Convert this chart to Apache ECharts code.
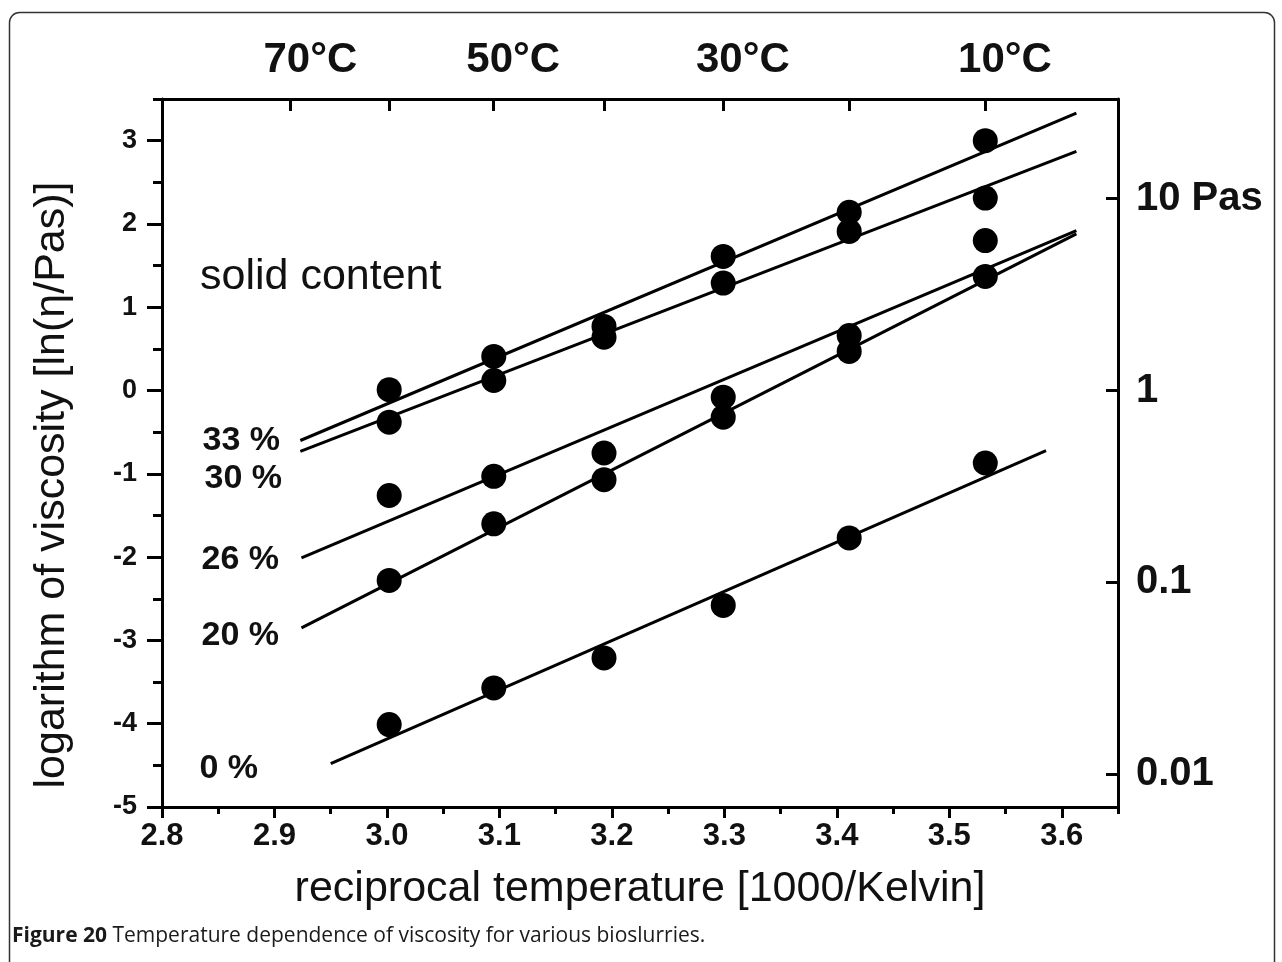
<!DOCTYPE html>
<html>
<head>
<meta charset="utf-8">
<script src="https://cdn.jsdelivr.net/npm/echarts@6/dist/echarts.min.js"></script>
<style>
  html, body { margin: 0; padding: 0; background: #fff; }
  #chart { width: 1282px; height: 962px; }
</style>
</head>
<body>
<div id="chart"></div>
<script>
// reciprocal temperature of the measurements (60 .. 10 °C)
const recipTemp = [3.002, 3.095, 3.193, 3.299, 3.411, 3.532]

// ln(viscosity / Pas) per solid content
const groups = ['33 %', '30 %', '26 %', '20 %', '0 %']
const lnVisc33 = [0.01, 0.41, 0.77, 1.61, 2.14, 3.00]
const lnVisc30 = [-0.38, 0.12, 0.64, 1.29, 1.91, 2.31]
const lnVisc26 = [-1.26, -1.03, -0.75, -0.08, 0.66, 1.80]
const lnVisc20 = [-2.28, -1.60, -1.07, -0.32, 0.47, 1.37]
const lnVisc0 = [-4.01, -3.57, -3.21, -2.58, -1.77, -0.87]

// fitted lines: [x start, y start, x end, y end]
const fit33 = [2.923, -0.60, 3.613, 3.33]
const fit30 = [2.923, -0.73, 3.613, 2.87]
const fit26 = [2.924, -2.01, 3.613, 1.92]
const fit20 = [2.924, -2.85, 3.613, 1.88]
const fit0 = [2.950, -4.48, 3.586, -0.72]

// top axis (°C) and right axis (Pas)
const tempTicks = [70, 60, 50, 40, 30, 20, 10]
const tempLabels = [70, 50, 30, 10]
const pasTicks = [0.01, 0.1, 1, 10]
const pasLabels = ['0.01', '0.1', '1', '10 Pas']
const lnTicks = [-5, -4, -3, -2, -1, 0, 1, 2, 3]

const allVisc = [lnVisc33, lnVisc30, lnVisc26, lnVisc20, lnVisc0]
const allFits = [fit33, fit30, fit26, fit20, fit0]

const toRecip = t => 1000 / (t + 273.15)
const FONT = 'Liberation Sans'
const X_MIN = 2.8, X_MAX = 3.65, Y_MIN = -5, Y_MAX = 3.5

const chart = echarts.init(document.getElementById('chart'))

const series = []
allFits.forEach((f, i) => {
  series.push({
    name: groups[i] + ' fit',
    type: 'line',
    data: [[f[0], f[1]], [f[2], f[3]]],
    showSymbol: false,
    silent: true,
    lineStyle: { color: '#000', width: 3 },
    z: 3
  })
})
allVisc.forEach((vals, i) => {
  series.push({
    name: groups[i],
    type: 'scatter',
    data: vals.map((v, j) => [recipTemp[j], v]),
    symbol: 'circle',
    symbolSize: 25,
    itemStyle: { color: '#000', opacity: 1 },
    z: 4
  })
})

const baseLine = { onZero: false, lineStyle: { color: '#000', width: 3 } }
const tickStyle = { width: 3, color: '#000' }

chart.setOption({
  animation: false,
  backgroundColor: '#fff',
  grid: { left: 162, right: 164, top: 99, bottom: 155, containLabel: false, outerBoundsMode: 'none' },
  xAxis: [
    {
      type: 'value', position: 'bottom', min: X_MIN, max: X_MAX, interval: 0.1,
      axisLine: baseLine,
      axisTick: { length: 11, lineStyle: tickStyle },
      splitLine: { show: false },
      axisLabel: {
        showMaxLabel: false, margin: 14, color: '#111',
        fontFamily: FONT, fontWeight: 'bold', fontSize: 31,
        formatter: v => v.toFixed(1)
      },
      name: 'reciprocal temperature [1000/Kelvin]',
      nameLocation: 'middle', nameGap: 61,
      nameTextStyle: { fontFamily: FONT, fontSize: 43, color: '#111' }
    },
    {
      // minor ticks
      type: 'value', position: 'bottom', min: X_MIN, max: X_MAX, interval: 0.05,
      axisLine: { show: false, onZero: false },
      axisTick: { length: 7, lineStyle: tickStyle },
      axisLabel: { show: false }, splitLine: { show: false }
    },
    {
      type: 'value', position: 'top', min: X_MIN, max: X_MAX,
      axisLine: baseLine,
      axisTick: { inside: true, length: 12, customValues: tempTicks.map(toRecip), lineStyle: tickStyle },
      splitLine: { show: false },
      axisLabel: {
        customValues: tempLabels.map(toRecip), margin: 18, color: '#111',
        fontFamily: FONT, fontWeight: 'bold', fontSize: 42,
        padding: [0, 0, 0, 40],
        formatter: v => Math.round(1000 / v - 273.15) + '°C'
      }
    }
  ],
  yAxis: [
    {
      type: 'value', position: 'left', min: Y_MIN, max: Y_MAX, interval: 1,
      axisLine: baseLine,
      axisTick: { length: 15, customValues: lnTicks, lineStyle: tickStyle },
      splitLine: { show: false },
      axisLabel: {
        customValues: lnTicks, margin: 25, color: '#111',
        fontFamily: FONT, fontWeight: 'bold', fontSize: 27
      },
      name: 'logarithm of viscosity [ln(η/Pas)]',
      nameLocation: 'middle', nameGap: 88, nameRotate: 90,
      nameTextStyle: { fontFamily: FONT, fontSize: 43, color: '#111', padding: [0, 64, 0, 0] }
    },
    {
      // minor ticks
      type: 'value', position: 'left', min: Y_MIN, max: Y_MAX, interval: 0.5,
      axisLine: { show: false, onZero: false },
      axisTick: { length: 9, lineStyle: tickStyle },
      axisLabel: { show: false }, splitLine: { show: false }
    },
    {
      type: 'value', position: 'right', min: Y_MIN, max: Y_MAX,
      axisLine: baseLine,
      axisTick: { inside: true, length: 12, customValues: pasTicks.map(Math.log), lineStyle: tickStyle },
      splitLine: { show: false },
      axisLabel: {
        customValues: pasTicks.map(Math.log), margin: 18, color: '#111',
        fontFamily: FONT, fontWeight: 'bold', fontSize: 40,
        formatter: v => {
          let best = 0
          pasTicks.forEach((p, i) => { if (Math.abs(Math.log(p) - v) < Math.abs(Math.log(pasTicks[best]) - v)) best = i })
          return pasLabels[best]
        }
      }
    }
  ],
  series: series,
  graphic: [
    {
      type: 'rect', silent: true, z: -1,
      shape: { x: 9.5, y: 12.5, width: 1265, height: 980, r: [10, 10, 0, 0] },
      style: { fill: 'none', stroke: '#333', lineWidth: 1.5 }
    },
    {
      type: 'text', left: 200, top: 256,
      style: { text: 'solid content', font: '43px "Liberation Sans"', fill: '#111' }
    },
    { type: 'text', right: 1002, top: 424, style: { text: '33 %', font: 'bold 34px "Liberation Sans"', fill: '#111' } },
    { type: 'text', right: 1000, top: 462, style: { text: '30 %', font: 'bold 34px "Liberation Sans"', fill: '#111' } },
    { type: 'text', right: 1003, top: 543, style: { text: '26 %', font: 'bold 34px "Liberation Sans"', fill: '#111' } },
    { type: 'text', right: 1003, top: 619, style: { text: '20 %', font: 'bold 34px "Liberation Sans"', fill: '#111' } },
    { type: 'text', right: 1024, top: 752, style: { text: '0 %', font: 'bold 34px "Liberation Sans"', fill: '#111' } },
    {
      type: 'text', left: 12, top: 926,
      style: {
        text: '{b|Figure 20} Temperature dependence of viscosity for various bioslurries.',
        font: '21px "Open Sans"', fill: '#1a1a1a',
        rich: { b: { fontFamily: 'Open Sans', fontSize: 21, fontWeight: 'bold', fill: '#1a1a1a' } }
      }
    }
  ]
})
</script>
</body>
</html>
